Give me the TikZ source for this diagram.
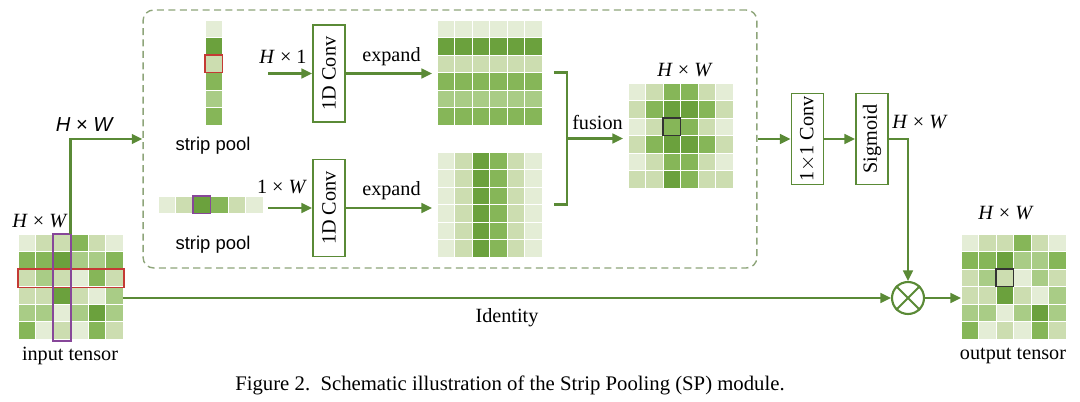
\documentclass[tikz,border=0pt]{standalone}
\usepackage{fontspec}
\setmainfont{Liberation Serif}
\setsansfont{Liberation Sans}
\usepackage{graphicx}
\usetikzlibrary{arrows.meta, positioning, calc}

\definecolor{g1}{HTML}{E4EDD6}
\definecolor{g2}{HTML}{CCDDB0}
\definecolor{g3}{HTML}{A9CC86}
\definecolor{g4}{HTML}{86B658}
\definecolor{g5}{HTML}{6BA13D}
\definecolor{lgreen}{HTML}{5A8A36}
\definecolor{dgray}{HTML}{8EA57A}
\definecolor{hred}{HTML}{C43A34}
\definecolor{hpurple}{HTML}{874799}

\tikzset{
  cell/.style={draw=white, line width=0.5pt},
  tgrid/.style={minimum width=2.1cm, minimum height=2.1cm, inner sep=0pt, outer sep=0pt},
  vstripbox/.style={minimum width=0.35cm, minimum height=2.1cm, inner sep=0pt, outer sep=0pt},
  hstripbox/.style={minimum width=2.1cm, minimum height=0.35cm, inner sep=0pt, outer sep=0pt},
  convbox/.style={draw=lgreen, line width=1.1pt, minimum width=0.64cm, minimum height=1.94cm, inner sep=0pt},
  arr/.style={draw=lgreen, line width=1.3pt, -{Triangle[length=6pt,width=5.5pt]}},
  wire/.style={draw=lgreen, line width=1.3pt},
}

% grid of cells, drawn from the top left corner of a node
\newcommand{\tensor}[2]{%
  \begin{scope}[shift={(#1.north west)}]
    \foreach \rw [count=\ri from 0] in {#2}
      \foreach \v [count=\ci from 0] in \rw
        \filldraw[cell, fill=g\v] (\ci*17.5,\ri*17.5) rectangle ++(17.5,17.5);
  \end{scope}}

\begin{document}
\begin{tikzpicture}[x=0.02cm, y=-0.02cm, font=\fontsize{11.5}{13}\selectfont]
  \useasboundingbox (0,0) rectangle (1080,402);

  % dashed frame of the strip pooling part
  \node[draw=dgray, dash pattern=on 4pt off 2.5pt, line width=0.8pt, rounded corners=6pt,
        minimum width=12.28cm, minimum height=5.16cm] (sp) at (450,139) {};

  % tensors
  \node[tgrid] (in) at (70.5,286.5) {};
  \tensor{in}{{1,2,2,4,2,1},{4,4,5,3,3,4},{2,3,2,1,4,2},{2,2,5,2,1,3},{3,3,1,3,5,3},{4,1,2,1,4,2}}
  \draw[hred, line width=1pt] (18,269) rectangle (124,287.5);
  \draw[hpurple, line width=1pt] (53,234) rectangle (71,341);

  \node[vstripbox] (vs) at (213.75,72.5) {};
  \tensor{vs}{{1},{5},{2},{4},{3},{4}}
  \draw[hred, line width=1pt] (205,55) rectangle (222.5,72.5);

  \node[hstripbox] (hs) at (210.5,204.75) {};
  \tensor{hs}{{1,2,5,4,2,1}}
  \draw[hpurple, line width=1pt] (193,196) rectangle (210.5,213.5);

  \node[tgrid] (et) at (489.5,72.5) {};
  \tensor{et}{{1,1,1,1,1,1},{5,5,5,5,5,5},{2,2,2,2,2,2},{4,4,4,4,4,4},{3,3,3,3,3,3},{4,4,4,4,4,4}}
  \node[tgrid] (eb) at (489.5,204.5) {};
  \tensor{eb}{{1,2,5,4,2,1},{1,2,5,4,2,1},{1,2,5,4,2,1},{1,2,5,4,2,1},{1,2,5,4,2,1},{1,2,5,4,2,1}}

  \node[tgrid] (fu) at (680.5,135.5) {};
  \tensor{fu}{{1,2,4,4,2,1},{2,4,5,5,4,2},{1,2,4,4,2,1},{2,4,5,5,4,2},{1,2,4,4,2,1},{2,2,5,4,2,2}}
  \draw[black!80, line width=1.1pt] (663,118) rectangle (680.5,135.5);

  \node[tgrid] (out) at (1013.5,286.5) {};
  \tensor{out}{{1,2,2,4,2,1},{4,4,5,3,3,4},{2,3,2,1,3,2},{2,2,5,2,1,3},{3,3,1,3,5,3},{4,1,2,1,4,2}}
  \draw[black!80, line width=1.1pt] (996,269) rectangle (1013.5,286.5);

  % blocks
  \node[convbox] (c1) at (329,73.5) {\rotatebox{90}{1D Conv}};
  \node[convbox] (c2) at (329,208) {\rotatebox{90}{1D Conv}};
  \node[convbox, minimum height=1.82cm] (cc) at (807.5,139) {\rotatebox{90}{1$\times$1 Conv}};
  \node[convbox, minimum height=1.82cm] (sg) at (872,139) {\rotatebox{90}{Sigmoid}};
  \node[draw=lgreen, line width=1.2pt, circle, minimum size=0.64cm, inner sep=0pt] (mul) at (908,298) {};
  \draw[wire, line width=1.1pt] (mul.north west) -- (mul.south east) (mul.north east) -- (mul.south west);

  \coordinate (a1) at (268,73.5);
  \coordinate (a2) at (268,208);
  \coordinate (fj) at (567,138.5);

  % connectors
  \draw[arr] (in.north) |- (sp.west);
  \draw[arr] (in.east |- mul) -- node[below=2pt, text=black] {Identity} (mul.west);
  \draw[arr] (a1) -- (c1.west);
  \draw[arr] (a2) -- (c2.west);
  \draw[arr, shorten >=0.1cm] (c1.east) -- node[above=0.5pt, text=black] {expand} (et.west |- c1);
  \draw[arr, shorten >=0.1cm] (c2.east) -- node[above=0.5pt, text=black] {expand} (eb.west |- c2);
  \draw[wire] ([xshift=0.24cm]et.east) -| (fj) |- ([xshift=0.24cm]eb.east);
  \draw[arr, shorten >=0.1cm] (fj) -- node[above=1pt, text=black] {fusion} (fu.west |- fj);
  \draw[arr] (sp.east) -- (cc.west);
  \draw[arr] (cc.east) -- (sg.west);
  \draw[arr] (sg.east) -| (mul.north);
  \draw[arr] (mul.east) -- (out.west |- mul);

  % labels
  \node (lin) at (40,221) {\textit{H} × \textit{W}};
  \node[font=\sffamily\fontsize{11.5}{13}\selectfont] (lsp) at (85,125) {\textit{H} × \textit{W}};
  \node (lh1) at (283,57) {\textit{H} × 1};
  \node (l1w) at (282,187) {1 × \textit{W}};
  \node[font=\sffamily\fontsize{10.5}{12}\selectfont] (sp1) at (213,146) {strip pool};
  \node[font=\sffamily\fontsize{10.5}{12}\selectfont] (sp2) at (213,245) {strip pool};
  \node (lfu) at (685,70) {\textit{H} × \textit{W}};
  \node (lsg) at (920,122) {\textit{H} × \textit{W}};
  \node (lout) at (1006,213) {\textit{H} × \textit{W}};
  \node (tin) at (70,356) {input tensor};
  \node (tout) at (1013,356) {output tensor};
  \node[font=\fontsize{11.8}{13}\selectfont] (cap) at (510,385) {Figure 2.\ \ Schematic illustration of the Strip Pooling (SP) module.};
\end{tikzpicture}
\end{document}
